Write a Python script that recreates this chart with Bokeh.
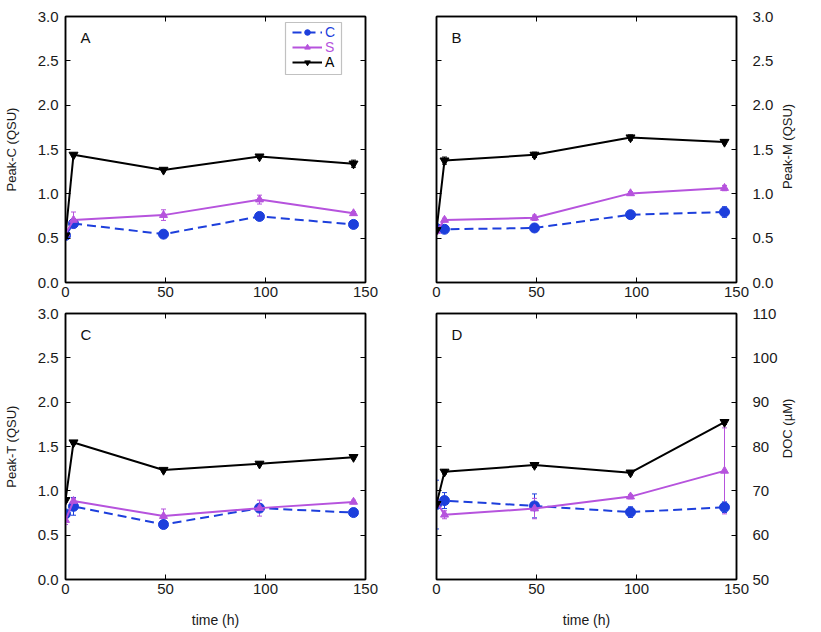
import math
import numpy as np
from bokeh.plotting import figure
from bokeh.models import (ColumnDataSource, Whisker, TeeHead, Legend, LegendItem,
                          LinearAxis, FixedTicker, Label, BoxAnnotation, Range1d,
                          CustomJSTickFormatter, NumeralTickFormatter)
from bokeh.layouts import column, row
from bokeh.embed import file_html
from bokeh.resources import INLINE

# ---------------- data ----------------
time_h = [0, 4, 49, 97, 144]
series_names = ["C", "S", "A"]
x_ticks = [0, 50, 100, 150]
qsu_ticks = [0.0, 0.5, 1.0, 1.5, 2.0, 2.5, 3.0]
doc_ticks = [50, 60, 70, 80, 90, 100, 110]

# Panel A: Peak-C (QSU)
peakC_C = [0.53, 0.665, 0.545, 0.745, 0.655]
peakC_C_err = [0.02, 0.03, 0.02, 0.02, 0.03]
peakC_S = [0.55, 0.705, 0.76, 0.935, 0.78]
peakC_S_err = [0.02, 0.09, 0.06, 0.05, 0.02]
peakC_A = [0.53, 1.44, 1.27, 1.42, 1.34]
peakC_A_err = [0.02, 0.02, 0.02, 0.02, 0.04]

# Panel B: Peak-M (QSU)
peakM_C = [0.61, 0.60, 0.615, 0.765, 0.795]
peakM_C_err = [0.02, 0.02, 0.02, 0.03, 0.06]
peakM_S = [0.58, 0.705, 0.73, 1.005, 1.065]
peakM_S_err = [0.03, 0.02, 0.03, 0.02, 0.03]
peakM_A = [0.59, 1.375, 1.44, 1.635, 1.585]
peakM_A_err = [0.02, 0.04, 0.03, 0.03, 0.02]

# Panel C: Peak-T (QSU)
peakT_C = [0.74, 0.825, 0.62, 0.805, 0.755]
peakT_C_err = [0.03, 0.10, 0.04, 0.03, 0.02]
peakT_S = [0.67, 0.885, 0.715, 0.805, 0.875]
peakT_S_err = [0.05, 0.03, 0.08, 0.09, 0.02]
peakT_A = [0.895, 1.545, 1.235, 1.305, 1.38]
peakT_A_err = [0.02, 0.02, 0.02, 0.02, 0.02]

# Panel D: DOC (uM)
doc_C = [66.9, 67.8, 66.6, 65.2, 66.3]
doc_C_err = [5.5, 1.8, 2.7, 1.2, 1.2]
doc_S = [67.6, 64.6, 66.0, 68.7, 74.5]
doc_S_err = [0.8, 0.9, 2.3, 0.5, 9.7]
doc_A = [67.0, 74.3, 75.8, 74.1, 85.5]
doc_A_err = [0.5, 0.5, 0.5, 0.5, 0.5]

# ---------------- styles ----------------
BLUE = "#1d3fdc"
PURPLE = "#b653dd"
BLACK = "#000000"
FONT = "Liberation Sans"
TXT = "#1a1a1a"
STYLE = {
    "C": dict(color=BLUE, dash="9 5", marker="circle", size=10),
    "S": dict(color=PURPLE, dash="solid", marker="triangle", size=8),
    "A": dict(color=BLACK, dash="solid", marker="inverted_triangle", size=9),
}

TOP_H = 16 + 266 + 23      # total height of the upper row
BOT_H = 8 + 266 + 45       # total height of the lower row


def blank_formatter():
    return CustomJSTickFormatter(code="return ''")


def make_panel(letter, ylabel, side, yr, yticks, yfmt, series, show_xlabel,
               borders, legend=False):
    bl, br, bt, bb = borders
    p = figure(frame_width=300, frame_height=266, output_backend="svg",
               toolbar_location=None, x_range=Range1d(0, 150),
               y_range=Range1d(*yr), y_axis_location=side,
               min_border_left=bl, min_border_right=br,
               min_border_top=bt, min_border_bottom=bb)
    p.xgrid.visible = False
    p.ygrid.visible = False
    p.outline_line_color = "black"
    p.outline_line_width = 1.5
    p.background_fill_color = "white"
    p.border_fill_color = "white"

    for ax in (p.xaxis[0], p.yaxis[0]):
        ax.major_tick_in = 5
        ax.major_tick_out = 0
        ax.minor_tick_line_color = None
        ax.axis_line_width = 1.5
        ax.major_tick_line_width = 1
        ax.major_label_text_font = FONT
        ax.major_label_text_font_size = "15px"
        ax.major_label_text_color = TXT
        ax.axis_label_text_font = FONT
        ax.axis_label_text_font_style = "normal"
        ax.axis_label_text_color = TXT
    p.xaxis[0].axis_label_text_font_size = "14px"
    p.yaxis[0].axis_label_text_font_size = "13px"
    p.xaxis[0].ticker = FixedTicker(ticks=x_ticks)
    p.yaxis[0].ticker = FixedTicker(ticks=yticks)
    p.yaxis[0].formatter = NumeralTickFormatter(format=yfmt)
    p.xaxis[0].major_label_standoff = 4
    if side == "left":
        p.yaxis[0].axis_label = ylabel
        p.yaxis[0].major_label_standoff = 7
        p.yaxis[0].axis_label_standoff = 16
    else:
        p.yaxis[0].major_label_standoff = 16
    if show_xlabel:
        p.xaxis[0].axis_label = "time (h)"
        p.xaxis[0].axis_label_standoff = 15

    # mirror axes (ticks only)
    other = "right" if side == "left" else "left"
    my = LinearAxis(ticker=FixedTicker(ticks=yticks), formatter=blank_formatter(),
                    major_tick_in=5, major_tick_out=0, minor_tick_line_color=None,
                    axis_line_width=1.5, major_label_standoff=0)
    p.add_layout(my, other)
    mx = LinearAxis(ticker=FixedTicker(ticks=x_ticks), formatter=blank_formatter(),
                    major_tick_in=5, major_tick_out=0, minor_tick_line_color=None,
                    axis_line_width=1.5, major_label_standoff=0)
    p.add_layout(mx, "above")

    items = {}
    for name in series_names:
        vals, errs = series[name]
        st = STYLE[name]
        v = np.array(vals, dtype=float)
        e = np.array(errs, dtype=float)
        src = ColumnDataSource(dict(x=time_h, y=vals, upper=(v + e).tolist(),
                                    lower=(v - e).tolist()))
        w = Whisker(source=src, base="x", upper="upper", lower="lower",
                    line_color=st["color"], line_width=1,
                    upper_head=TeeHead(size=5, line_color=st["color"], line_width=1),
                    lower_head=TeeHead(size=5, line_color=st["color"], line_width=1))
        p.add_layout(w)
        ln = p.line("x", "y", source=src, line_color=st["color"], line_width=2,
                    line_dash=st["dash"])
        sc = p.scatter("x", "y", source=src, marker=st["marker"], size=st["size"],
                       fill_color=st["color"], line_color=st["color"])
        items[name] = [ln, sc]

    p.add_layout(Label(x=15, y=254, x_units="screen", y_units="screen", text=letter,
                       text_baseline="top", text_font=FONT, text_font_size="15px",
                       text_color="#111111"))

    if legend:
        colors = {"C": BLUE, "S": PURPLE, "A": BLACK}
        bottoms = {"C": 242, "S": 227, "A": 212}
        for name in series_names:
            lg = Legend(items=[LegendItem(label=name, renderers=items[name])],
                        location=(227, bottoms[name]), label_text_color=colors[name],
                        label_text_font=FONT, label_text_font_size="14px",
                        border_line_alpha=0, background_fill_alpha=0,
                        padding=0, margin=0, spacing=0, label_height=14,
                        glyph_height=14, glyph_width=30, label_standoff=3)
            p.add_layout(lg)
        p.add_layout(BoxAnnotation(left=220, right=276, top=260, bottom=208,
                                   left_units="screen", right_units="screen",
                                   top_units="screen", bottom_units="screen",
                                   fill_alpha=0, line_color="#333333",
                                   line_width=1.2))
    return p


def side_title(text, total_h, center_from_bottom):
    """Narrow strip carrying a right-hand axis title that reads bottom-to-top."""
    q = figure(width=24, height=total_h, min_border=0, output_backend="svg",
               toolbar_location=None, x_range=Range1d(0, 24),
               y_range=Range1d(0, total_h), x_axis_type=None, y_axis_type=None)
    q.outline_line_color = None
    q.xgrid.visible = False
    q.ygrid.visible = False
    q.add_layout(Label(x=7, y=center_from_bottom, text=text, angle=math.pi / 2,
                       text_align="center", text_baseline="middle", text_font=FONT,
                       text_font_size="13px", text_color=TXT))
    return q


pA = make_panel("A", "Peak-C (QSU)", "left", (0, 3), qsu_ticks, "0.0",
                {"C": (peakC_C, peakC_C_err), "S": (peakC_S, peakC_S_err),
                 "A": (peakC_A, peakC_A_err)},
                False, (65, 36, 16, 23), legend=True)
pB = make_panel("B", "Peak-M (QSU)", "right", (0, 3), qsu_ticks, "0.0",
                {"C": (peakM_C, peakM_C_err), "S": (peakM_S, peakM_S_err),
                 "A": (peakM_A, peakM_A_err)},
                False, (35, 44, 16, 23))
pC = make_panel("C", "Peak-T (QSU)", "left", (0, 3), qsu_ticks, "0.0",
                {"C": (peakT_C, peakT_C_err), "S": (peakT_S, peakT_S_err),
                 "A": (peakT_A, peakT_A_err)},
                True, (65, 36, 8, 45))
pD = make_panel("D", "DOC (µM)", "right", (50, 110), doc_ticks, "0",
                {"C": (doc_C, doc_C_err), "S": (doc_S, doc_S_err),
                 "A": (doc_A, doc_A_err)},
                True, (35, 44, 8, 45))

tB = side_title("Peak-M (QSU)", TOP_H, TOP_H - (16 + 133))
tD = side_title("DOC (µM)", BOT_H, BOT_H - (8 + 133))

layout = column(row(pA, pB, tB), row(pC, pD, tD))
open("out.html", "w").write(file_html(layout, INLINE))
